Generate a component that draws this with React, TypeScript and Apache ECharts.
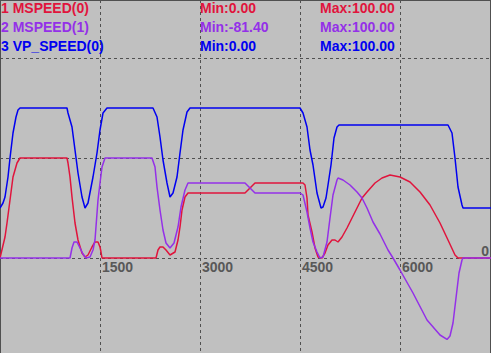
import React, { useEffect, useRef } from "react";
import * as echarts from "echarts";

// Time axis (same unit as the tick labels)
const xTicks = [0, 1500, 3000, 4500, 6000];
const xMax = 7365;

const seriesNames = ["1 MSPEED(0)", "2 MSPEED(1)", "3 VP_SPEED(0)"];
const seriesColors = ["#E0143C", "#9430E8", "#0000F0"];

// 1 MSPEED(0)
const redTime = [0, 75, 105, 150, 195, 255, 300, 1005, 1020, 1050, 1080, 1125, 1170, 1230, 1275, 1320, 1380, 1425, 1470, 1500, 1515, 1530, 2340, 2370, 2400, 2445, 2490, 2550, 2625, 2670, 2700, 2730, 2775, 2820, 3675, 3825, 4545, 4575, 4605, 4620, 4680, 4725, 4770, 4830, 4875, 4920, 4980, 5025, 5070, 5130, 5205, 5280, 5355, 5430, 5505, 5625, 5730, 5850, 6000, 6150, 6300, 6450, 6600, 6720, 6825, 6870, 7365];
const redValue = [0, 21, 35, 58, 81, 95, 100, 100, 95, 81, 61, 35, 18, 5, 1, 3, 11, 16, 16, 11, 6, 0, 0, 8, 11, 11, 8, 3, 6, 18, 31, 48, 61, 65, 65, 75, 75, 73, 60, 43, 26, 10, 1, 0, 5, 13, 18, 18, 16, 21, 30, 40, 50, 60, 66, 75, 80, 83, 81, 76, 66, 53, 35, 18, 3, 0, 0];

// 2 MSPEED(1)
const purpleTime = [0, 1050, 1080, 1110, 1155, 1200, 1245, 1290, 1350, 1395, 1425, 1470, 1500, 1530, 1575, 2280, 2325, 2355, 2400, 2445, 2490, 2550, 2610, 2670, 2715, 2775, 2820, 3675, 3825, 4500, 4545, 4605, 4650, 4695, 4755, 4800, 4845, 4905, 4950, 4995, 5055, 5070, 5145, 5250, 5355, 5430, 5505, 5595, 5700, 5745, 5820, 5895, 6000, 6195, 6405, 6600, 6705, 6750, 6795, 6840, 6885, 6930, 6945, 7365];
const purpleValue = [0, 0, 10, 16, 16, 10, 4, 0, 1, 8, 18, 58, 75, 91, 100, 100, 91, 71, 48, 28, 15, 10, 15, 31, 51, 68, 75, 75, 65, 65, 63, 46, 30, 16, 6, 0, 1, 16, 40, 63, 78, 80, 78, 73, 66, 60, 50, 36, 24, 18, 8, 0, -12, -35, -62, -77, -81.4, -78, -65, -40, -15, -2, 0, 0];

// 3 VP_SPEED(0)
const blueTime = [0, 45, 75, 120, 150, 195, 240, 270, 300, 1005, 1020, 1080, 1125, 1170, 1230, 1275, 1320, 1395, 1455, 1500, 1545, 1605, 2295, 2355, 2400, 2445, 2505, 2550, 2595, 2655, 2700, 2745, 2805, 2850, 4500, 4545, 4605, 4650, 4695, 4755, 4815, 4845, 4890, 4920, 4965, 5010, 5055, 5085, 6720, 6780, 6825, 6870, 6930, 6945, 7365];
const blueValue = [0, 5, 11, 31, 50, 75, 91, 98, 100, 100, 95, 81, 58, 35, 11, 0, 5, 31, 55, 78, 95, 100, 100, 91, 71, 48, 25, 11, 15, 31, 55, 78, 96, 100, 100, 95, 81, 58, 43, 15, 0, 1, 10, 23, 43, 70, 81, 83, 83, 75, 50, 21, 3, 0, 0];

const FONT = "'Liberation Sans', Arial, sans-serif";

function pairs(t: number[], v: number[]) {
  return t.map((x, i) => [x, v[i]]);
}

export default function App() {
  const ref = useRef<HTMLDivElement>(null);

  useEffect(() => {
    document.body.style.margin = "0";
    if (!ref.current) return;
    const chart = echarts.init(ref.current, undefined, { renderer: "svg" });

    const allValues = [redValue, purpleValue, blueValue];
    const legendTexts: any[] = [];
    allValues.forEach((vals, i) => {
      const mn = Math.min(...vals);
      const mx = Math.max(...vals);
      const y = 1 + i * 19;
      const style = { fill: seriesColors[i], font: `bold 14px ${FONT}` };
      legendTexts.push(
        { type: "text", left: 1, top: y, style: { ...style, text: seriesNames[i] } },
        { type: "text", left: 200, top: y, style: { ...style, text: `Min:${mn.toFixed(2)}` } },
        { type: "text", left: 320, top: y, style: { ...style, text: `Max:${mx.toFixed(2)}` } }
      );
    });

    const dash = { color: "#505050", type: [3, 3] as any, width: 1 };

    chart.setOption({
      animation: false,
      backgroundColor: "#C0C0C0",
      grid: {
        left: 0,
        right: 0,
        top: 0,
        bottom: -5,
        containLabel: false,
        outerBoundsMode: "none",
        show: true,
        backgroundColor: "#C0C0C0",
        borderColor: "#505050",
        borderWidth: 2,
        z: 0,
      },
      xAxis: {
        type: "value",
        position: "bottom",
        offset: -100,
        min: 0,
        max: xMax,
        interval: xTicks[1] - xTicks[0],
        axisLine: { show: false, onZero: false },
        axisTick: { show: false },
        splitLine: { show: true, lineStyle: dash },
        axisLabel: {
          show: true,
          showMinLabel: false,
          showMaxLabel: false,
          color: "#585858",
          fontFamily: FONT,
          fontWeight: "bold",
          fontSize: 14,
          align: "left",
          margin: 2,
          padding: [0, 0, 0, 2],
          formatter: (v: number) => String(v),
        },
      },
      yAxis: [
        {
          type: "value",
          position: "right",
          min: -100,
          max: 258,
          interval: 100,
          axisLine: { show: false },
          axisTick: { show: false },
          splitLine: { show: true, lineStyle: dash },
          axisLabel: {
            inside: true,
            margin: 2,
            verticalAlign: "bottom",
            color: "#585858",
            fontFamily: FONT,
            fontWeight: "bold",
            fontSize: 14,
            formatter: (v: number) => (v === 0 ? "0" : ""),
          },
        },
        {
          type: "value",
          min: -150,
          max: 208,
          show: false,
          splitLine: { show: false },
        },
      ],
      series: [
        {
          name: seriesNames[0],
          type: "line",
          yAxisIndex: 0,
          data: pairs(redTime, redValue),
          showSymbol: false,
          lineStyle: { color: seriesColors[0], width: 1.5 },
          z: 3,
        },
        {
          name: seriesNames[1],
          type: "line",
          yAxisIndex: 0,
          data: pairs(purpleTime, purpleValue),
          showSymbol: false,
          lineStyle: { color: seriesColors[1], width: 1.5 },
          z: 4,
        },
        {
          name: seriesNames[2],
          type: "line",
          yAxisIndex: 1,
          data: pairs(blueTime, blueValue),
          showSymbol: false,
          lineStyle: { color: seriesColors[2], width: 1.5 },
          z: 5,
        },
      ],
      graphic: legendTexts,
    });

    return () => chart.dispose();
  }, []);

  return <div ref={ref} style={{ width: 491, height: 353 }} />;
}
